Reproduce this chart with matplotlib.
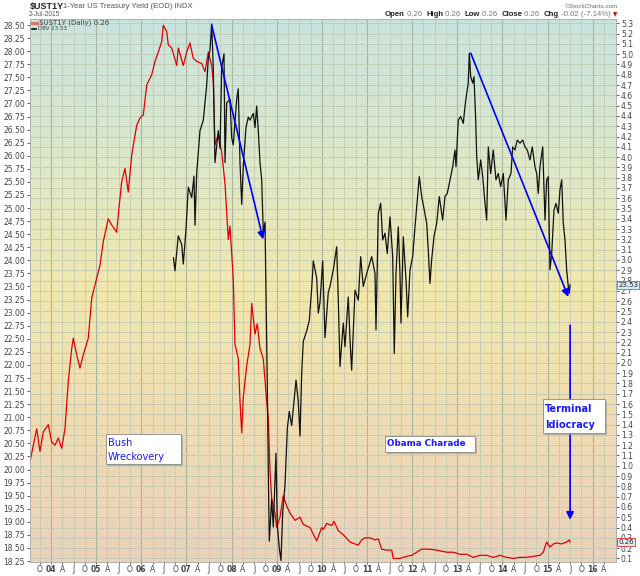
import numpy as np
import matplotlib
matplotlib.use("Agg")
import matplotlib.pyplot as plt
from matplotlib.colors import LinearSegmentedColormap
from matplotlib.patches import Rectangle
from matplotlib.lines import Line2D

# ---------------- data (decimal years) ----------------
ust_t = [2003.535, 2003.683, 2003.756, 2003.829, 2003.940, 2004.016, 2004.089, 2004.162, 2004.237, 2004.310,
         2004.383, 2004.459, 2004.494, 2004.569, 2004.642, 2004.716, 2004.826, 2004.902, 2005.012, 2005.086,
         2005.159, 2005.269, 2005.345, 2005.455, 2005.491, 2005.566, 2005.639, 2005.712, 2005.788, 2005.899,
         2005.972, 2006.045, 2006.120, 2006.231, 2006.304, 2006.377, 2006.452, 2006.488, 2006.563, 2006.599,
         2006.674, 2006.785, 2006.820, 2006.931, 2007.006, 2007.079, 2007.152, 2007.228, 2007.338, 2007.412,
         2007.485, 2007.560, 2007.595, 2007.633, 2007.706, 2007.782, 2007.855, 2007.928, 2007.965, 2008.003,
         2008.038, 2008.076, 2008.149, 2008.187, 2008.225, 2008.260, 2008.335, 2008.409, 2008.446, 2008.519,
         2008.570, 2008.630, 2008.703, 2008.778, 2008.814, 2008.852, 2008.889, 2008.962, 2009.000, 2009.073,
         2009.146, 2009.221, 2009.295, 2009.405, 2009.516, 2009.589, 2009.738, 2009.886, 2009.997, 2010.032,
         2010.108, 2010.218, 2010.269, 2010.365, 2010.475, 2010.624, 2010.735, 2010.808, 2010.883, 2010.956,
         2011.067, 2011.178, 2011.251, 2011.326, 2011.437, 2011.548, 2011.583, 2011.731, 2011.880, 2011.991,
         2012.101, 2012.212, 2012.396, 2012.545, 2012.766, 2012.912, 2013.061, 2013.209, 2013.355, 2013.504,
         2013.652, 2013.798, 2013.947, 2014.095, 2014.241, 2014.390, 2014.538, 2014.684, 2014.833, 2014.906,
         2014.981, 2015.054, 2015.128, 2015.203, 2015.314, 2015.424, 2015.482, 2015.498]
ust_v = [1.04, 1.36, 1.14, 1.33, 1.40, 1.23, 1.20, 1.27, 1.17, 1.36,
         1.82, 2.14, 2.24, 2.08, 1.95, 2.08, 2.24, 2.63, 2.82, 2.95,
         3.18, 3.40, 3.34, 3.27, 3.44, 3.76, 3.89, 3.66, 4.02, 4.31,
         4.38, 4.41, 4.70, 4.80, 4.93, 5.02, 5.12, 5.28, 5.22, 5.09,
         5.06, 4.89, 5.06, 4.89, 5.02, 5.11, 4.96, 4.93, 4.91, 4.83,
         5.02, 4.89, 4.73, 4.12, 4.22, 4.05, 3.74, 3.20, 3.33, 3.06,
         2.82, 2.18, 2.04, 1.63, 1.32, 1.66, 1.97, 2.18, 2.58, 2.28,
         2.38, 2.14, 2.04, 1.63, 1.46, 0.95, 0.68, 0.54, 0.40, 0.50,
         0.71, 0.61, 0.54, 0.47, 0.50, 0.43, 0.40, 0.27, 0.40, 0.38,
         0.44, 0.42, 0.46, 0.37, 0.33, 0.26, 0.24, 0.23, 0.28, 0.30,
         0.30, 0.28, 0.29, 0.19, 0.18, 0.18, 0.10, 0.10, 0.12, 0.13,
         0.16, 0.19, 0.19, 0.18, 0.16, 0.16, 0.14, 0.14, 0.11, 0.13,
         0.13, 0.11, 0.13, 0.11, 0.10, 0.11, 0.11, 0.12, 0.13, 0.16,
         0.26, 0.21, 0.24, 0.25, 0.24, 0.26, 0.28, 0.26]

dbv_t = [2006.714, 2006.747, 2006.820, 2006.896, 2006.931, 2006.991, 2007.042, 2007.117, 2007.168, 2007.190,
         2007.228, 2007.301, 2007.374, 2007.449, 2007.485, 2007.522, 2007.560, 2007.595, 2007.633, 2007.706,
         2007.744, 2007.782, 2007.833, 2007.855, 2007.892, 2007.965, 2008.003, 2008.038, 2008.114, 2008.149,
         2008.187, 2008.225, 2008.260, 2008.320, 2008.371, 2008.409, 2008.482, 2008.519, 2008.557, 2008.592,
         2008.630, 2008.668, 2008.703, 2008.741, 2008.756, 2008.792, 2008.814, 2008.836, 2008.889, 2008.925,
         2008.984, 2009.013, 2009.058, 2009.095, 2009.133, 2009.184, 2009.235, 2009.279, 2009.332, 2009.383,
         2009.428, 2009.478, 2009.516, 2009.554, 2009.589, 2009.665, 2009.722, 2009.775, 2009.811, 2009.886,
         2009.922, 2009.959, 2010.019, 2010.070, 2010.143, 2010.181, 2010.254, 2010.329, 2010.365, 2010.402,
         2010.475, 2010.513, 2010.586, 2010.624, 2010.661, 2010.735, 2010.808, 2010.861, 2010.918, 2010.994,
         2011.105, 2011.178, 2011.200, 2011.251, 2011.304, 2011.348, 2011.399, 2011.450, 2011.510, 2011.570,
         2011.605, 2011.643, 2011.694, 2011.731, 2011.754, 2011.805, 2011.865, 2011.902, 2011.953, 2012.013,
         2012.064, 2012.115, 2012.159, 2012.212, 2012.270, 2012.323, 2012.358, 2012.396, 2012.433, 2012.484,
         2012.545, 2012.602, 2012.677, 2012.728, 2012.779, 2012.839, 2012.899, 2012.950, 2012.972, 2013.023,
         2013.076, 2013.134, 2013.171, 2013.209, 2013.244, 2013.267, 2013.298, 2013.342, 2013.371, 2013.409,
         2013.431, 2013.466, 2013.519, 2013.564, 2013.615, 2013.652, 2013.688, 2013.741, 2013.798, 2013.858,
         2013.909, 2013.962, 2014.020, 2014.080, 2014.131, 2014.190, 2014.228, 2014.279, 2014.330, 2014.390,
         2014.450, 2014.501, 2014.552, 2014.611, 2014.662, 2014.722, 2014.760, 2014.795, 2014.833, 2014.893,
         2014.944, 2014.981, 2015.016, 2015.054, 2015.092, 2015.143, 2015.187, 2015.238, 2015.276, 2015.314,
         2015.349, 2015.387, 2015.424, 2015.460, 2015.482, 2015.498]
dbv_v = [24.05, 23.80, 24.47, 24.30, 23.93, 24.60, 25.40, 25.20, 25.61, 24.67,
         25.67, 26.48, 26.68, 27.35, 27.86, 28.02, 28.52, 27.69, 25.87, 26.48,
         26.14, 27.69, 27.95, 25.87, 27.01, 27.08, 26.34, 26.21, 27.08, 27.28,
         25.87, 25.07, 25.81, 26.54, 26.74, 26.68, 26.81, 26.54, 26.95, 26.48,
         25.87, 25.54, 24.53, 24.73, 23.86, 21.65, 19.97, 18.63, 19.43, 18.90,
         20.31, 18.96, 18.49, 18.26, 19.17, 19.70, 20.78, 21.11, 20.84, 21.31,
         21.71, 21.31, 20.64, 21.85, 22.45, 22.65, 22.85, 23.46, 23.99, 23.66,
         22.99, 23.19, 23.99, 22.52, 23.39, 23.50, 23.82, 24.26, 23.24, 21.97,
         22.80, 22.35, 23.30, 22.48, 21.90, 23.43, 23.24, 24.07, 23.50, 23.75,
         24.07, 23.75, 22.67, 24.90, 25.09, 24.39, 24.52, 24.13, 24.83, 24.07,
         22.22, 23.75, 24.64, 23.75, 22.80, 24.45, 23.62, 22.92, 23.82, 24.07,
         24.64, 25.15, 25.60, 25.22, 24.96, 24.71, 24.20, 23.56, 24.01, 24.45,
         24.71, 25.22, 24.77, 25.22, 25.28, 25.54, 25.79, 26.11, 25.79, 26.68,
         26.75, 26.62, 26.94, 27.19, 27.39, 27.96, 27.51, 27.39, 27.51, 26.68,
         25.98, 25.54, 25.92, 25.60, 25.09, 24.77, 26.17, 25.66, 26.11, 25.54,
         25.66, 25.41, 25.66, 24.77, 25.54, 25.66, 26.17, 26.11, 26.30, 26.24,
         26.30, 26.17, 26.11, 25.92, 26.17, 25.79, 25.66, 25.28, 25.79, 26.17,
         24.77, 25.54, 25.60, 23.82, 24.13, 24.96, 25.09, 24.90, 25.35, 25.54,
         24.71, 24.39, 23.82, 23.50, 23.37, 23.53]

# annotation arrows (start, end) in DBV units
arrows = [((2007.56, 28.50), (2008.70, 24.40)),
          ((2013.30, 27.96), (2015.46, 23.30)),
          ((2015.50, 22.76), (2015.50, 19.04))]

left_ticks = np.arange(18.25, 28.51, 0.25)
right_ticks = np.arange(0.1, 5.31, 0.1)
quarters = np.arange(2003.75, 2016.26, 0.25)

# ---------------- figure ----------------
W, H = 640, 576
fig = plt.figure(figsize=(6.4, 5.76), dpi=100)
def fx(px): return px / W
def fy(py): return 1 - py / H

PL, PR, PT, PB = 30, 616, 19, 562
LTOP, LBOT = 28.615, 18.232
RTOP, RBOT = 5.342, 0.065
axL = fig.add_axes([fx(PL), fy(PB), fx(PR) - fx(PL), fy(PT) - fy(PB)])
axR = axL.twinx()
axR.set_zorder(0)
axL.set_zorder(1)
axL.patch.set_visible(False)

# gradient background
cmap = LinearSegmentedColormap.from_list("bg", [(0.0, "#c8e4e0"), (0.25, "#dce7c9"),
                                                (0.5, "#f1e8ad"), (0.75, "#efdcb3"),
                                                (1.0, "#ebd2bc")])
grad = np.linspace(0, 1, 256).reshape(-1, 1)
axR.imshow(grad, extent=[0, 1, 0, 1], transform=axR.transAxes, aspect="auto",
           cmap=cmap, zorder=0, interpolation="bilinear")

xlim = (2003.535, 2016.517)
axL.set_xlim(*xlim)
axR.set_xlim(*xlim)
axL.set_ylim(LBOT, LTOP)
axR.set_ylim(RBOT, RTOP)

# gridlines
for q in quarters:
    yearline = abs(q - round(q)) < 1e-6
    axR.axvline(q, color="#a9b59c" if yearline else "#c2cbb4", lw=0.8 if yearline else 0.6, zorder=1)
for t in right_ticks:
    axR.axhline(t, color="#c2cbb4", lw=0.6, zorder=1)

# series
axR.plot(ust_t, ust_v, color="#e00000", lw=0.9, zorder=3)
axL.plot(dbv_t, dbv_v, color="#111111", lw=0.9, zorder=3)

for (s, e) in arrows:
    axL.annotate("", xy=e, xytext=s,
                 arrowprops=dict(arrowstyle="-|>", color="#0000ff", lw=1.2,
                                 mutation_scale=11, shrinkA=0, shrinkB=0), zorder=4)

# ticks
axL.set_yticks(left_ticks)
axL.set_yticklabels([f"{v:.2f}" for v in left_ticks])
axR.set_yticks(right_ticks)
axR.set_yticklabels([f"{v:.1f}" for v in right_ticks])
axL.set_xticks(quarters)
labs = []
for q in quarters:
    frac = round((q - np.floor(q)) * 4)
    yr = int(np.floor(q))
    labs.append({0: f"{yr % 100:02d}", 1: "A", 2: "J", 3: "O"}[frac])
axL.set_xticklabels(labs)
for lab, q in zip(axL.get_xticklabels(), quarters):
    if abs(q - round(q)) < 1e-6:
        lab.set_fontweight("bold")
        lab.set_color("#111111")

axL.tick_params(axis="y", labelsize=5.5, length=2, width=0.6, pad=1.5, colors="#444444")
axR.tick_params(axis="y", labelsize=5.5, length=2, width=0.6, pad=1.5, colors="#444444")
axL.tick_params(axis="x", labelsize=5.5, length=1.5, width=0.6, pad=0.8, colors="#444444")
for ax in (axL, axR):
    for sp in ax.spines.values():
        sp.set_color("#b0b0b0")
        sp.set_linewidth(0.6)

# right-side value tags
axR.annotate(f"{dbv_v[-1]:.2f}", xy=(1.004, (dbv_v[-1] - LBOT) / (LTOP - LBOT)),
             xycoords="axes fraction", fontsize=5, color="#222222", va="center", ha="left",
             bbox=dict(boxstyle="square,pad=0.15", fc="#d4edf2", ec="#4a6a7a", lw=0.5),
             annotation_clip=False, zorder=10)
axR.annotate(f"{ust_v[-1]:.2f}", xy=(1.004, ust_v[-1]), xycoords=axR.get_yaxis_transform(),
             fontsize=5, color="#222222", va="center", ha="left",
             bbox=dict(boxstyle="square,pad=0.15", fc="#e2eef2", ec="#e03030", lw=0.6),
             annotation_clip=False, zorder=10)

# header
fig.text(fx(30), fy(7), "$UST1Y", fontsize=6.5, fontweight="bold", family="Liberation Sans",
         color="#222222", va="center", ha="left")
fig.text(fx(63), fy(7), "1-Year US Treasury Yield (EOD) INDX", fontsize=5.5,
         family="Liberation Sans", color="#555555", va="center", ha="left")
fig.text(fx(29), fy(15), "2-Jul-2015", fontsize=4.8, family="Liberation Sans",
         color="#555555", va="center", ha="left")
fig.text(fx(618), fy(6), "\u00a9StockCharts.com", fontsize=4.6, family="Liberation Sans",
         color="#666666", va="center", ha="right")

pieces = [("Open", True, "#222222"), (" 0.26  ", False, "#777777"),
          ("High", True, "#222222"), (" 0.26  ", False, "#777777"),
          ("Low", True, "#222222"), (" 0.26  ", False, "#777777"),
          ("Close", True, "#222222"), (" 0.26  ", False, "#777777"),
          ("Chg", True, "#222222"), (" -0.02 (-7.14%) ", False, "#777777"),
          ("\u25bc", False, "#d00000")]
renderer = fig.canvas.get_renderer()
txts = []
widths = []
for s, b, c in pieces:
    t = fig.text(0, fy(15), s, fontsize=5.6, fontweight="bold" if b else "normal",
                 family="Liberation Sans" if s != "\u25bc" else "DejaVu Sans",
                 color=c, va="center", ha="left")
    if s == "\u25bc":
        t.set_fontsize(4)
    bb = t.get_window_extent(renderer=renderer)
    txts.append(t)
    widths.append(bb.width)
xcur = 617 - sum(widths)
for t, w in zip(txts, widths):
    t.set_x(fx(xcur))
    xcur += w

# legend
fig.add_artist(Line2D([fx(32), fx(37)], [fy(23), fy(23)], color="#e07070", lw=2.2))
fig.text(fx(39), fy(23), f"$UST1Y (Daily) {ust_v[-1]:.2f}", fontsize=5, color="#444444",
         va="center", ha="left")
fig.add_artist(Line2D([fx(32), fx(36)], [fy(29), fy(29)], color="#111111", lw=1.2))
fig.text(fx(38), fy(29), f"DBV {dbv_v[-1]:.2f}", fontsize=4, color="#444444",
         va="center", ha="left")

# annotation boxes
def box(x0, y0, x1, y1):
    fig.add_artist(Rectangle((fx(x0 + 2), fy(y1 + 2)), fx(x1) - fx(x0), fy(y0) - fy(y1),
                             transform=fig.transFigure, fc="#9a9a9a", ec="none", alpha=0.6, zorder=10))
    fig.add_artist(Rectangle((fx(x0), fy(y1)), fx(x1) - fx(x0), fy(y0) - fy(y1),
                             transform=fig.transFigure, fc="white", ec="#888888", lw=0.6, zorder=11))

box(106, 434, 181, 464)
fig.text(fx(108), fy(443.5), "Bush", fontsize=7, color="#1a1aff", va="center", ha="left", zorder=12)
fig.text(fx(108), fy(456.5), "Wreckovery", fontsize=7, color="#1a1aff", va="center", ha="left", zorder=12)
box(385, 436, 475, 452)
fig.text(fx(387), fy(444), "Obama Charade", fontsize=6.3, fontweight="bold", color="#1a1aff",
         va="center", ha="left", zorder=12)
box(543, 399, 605, 433)
fig.text(fx(545), fy(409.5), "Terminal", fontsize=7, fontweight="bold", color="#1a1aff",
         va="center", ha="left", zorder=12)
fig.text(fx(545), fy(424.5), "Idiocracy", fontsize=7, fontweight="bold", color="#1a1aff",
         va="center", ha="left", zorder=12)

fig.savefig("out.png", dpi=100)
